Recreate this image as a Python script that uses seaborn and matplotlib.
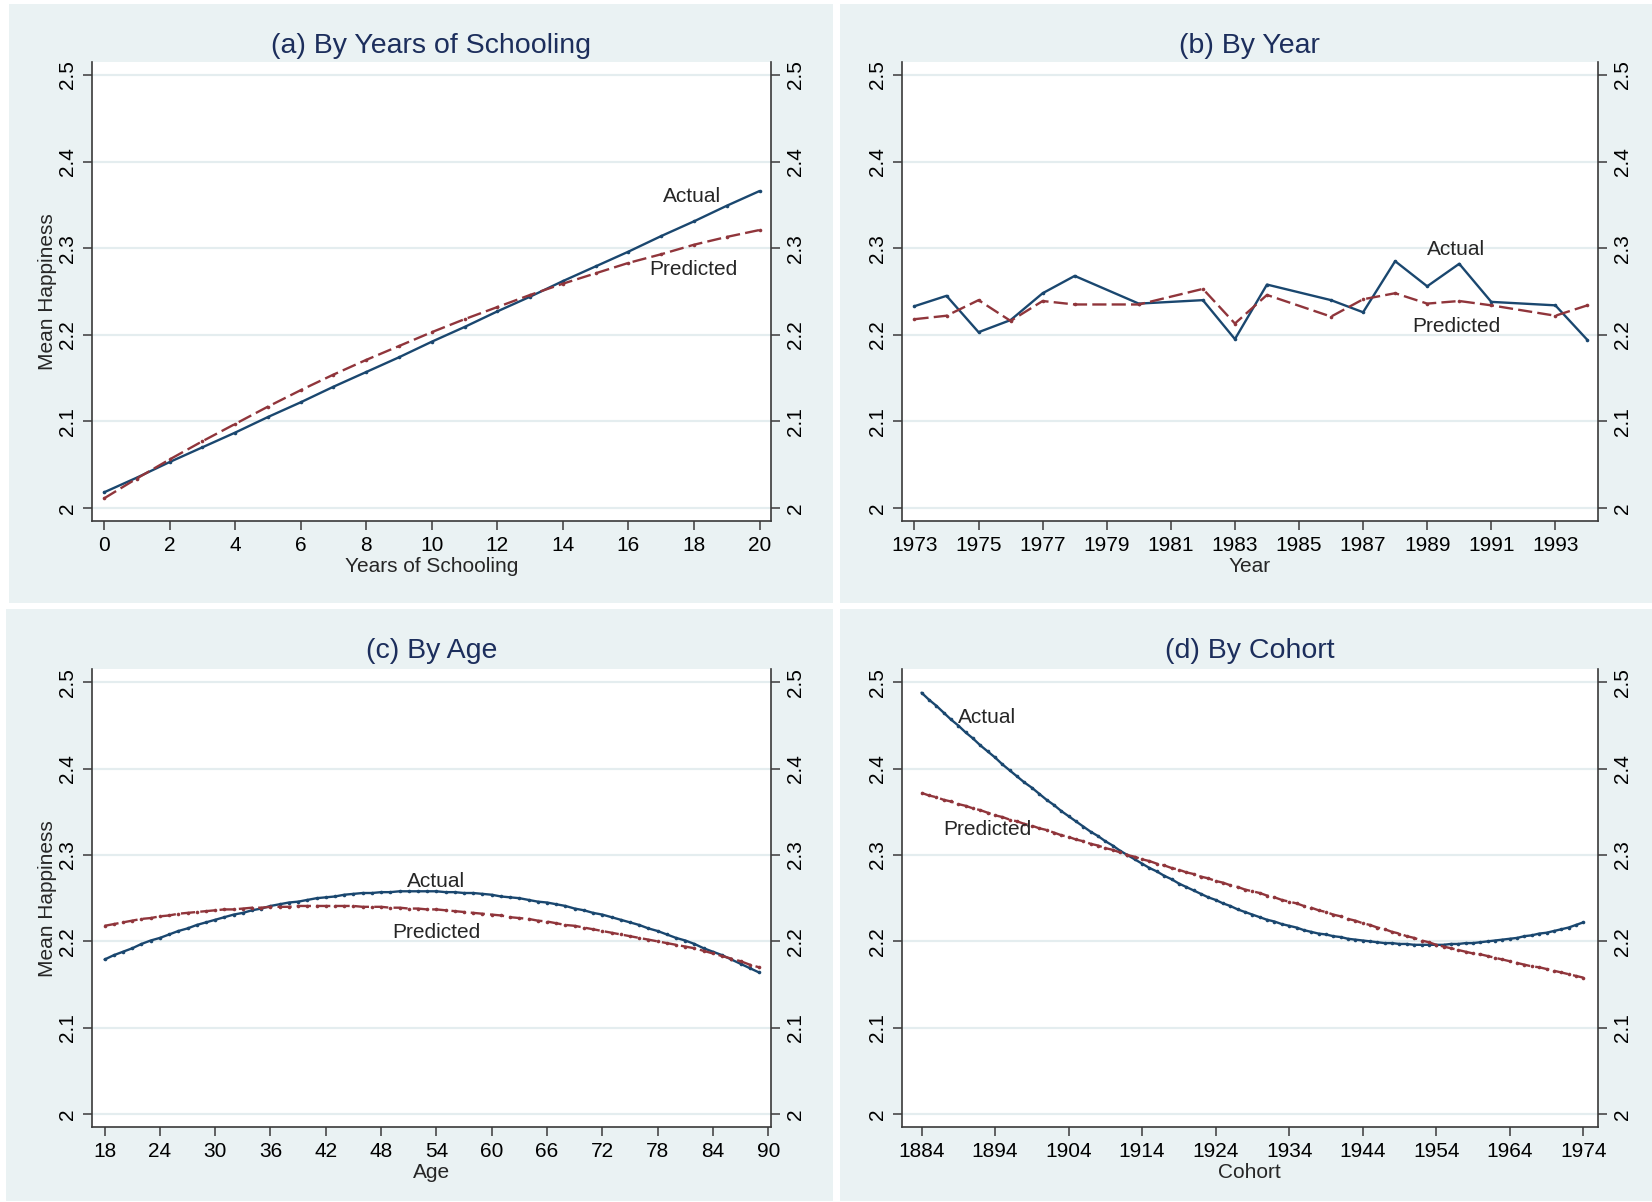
import matplotlib
matplotlib.use("Agg")
import matplotlib.pyplot as plt
from matplotlib.patches import Rectangle
import pandas as pd
import seaborn as sns

sns.set_theme(style="white")
plt.rcParams["font.family"] = ["Liberation Sans", "DejaVu Sans"]

# ---------------- data ----------------
school_years = list(range(0, 21))
school_actual = [2.018, 2.035, 2.053, 2.070, 2.087, 2.105, 2.122, 2.140, 2.157, 2.174, 2.192,
                 2.209, 2.227, 2.244, 2.262, 2.279, 2.296, 2.314, 2.331, 2.349, 2.366]
school_pred = [2.011, 2.034, 2.056, 2.077, 2.097, 2.117, 2.136, 2.154, 2.171, 2.187, 2.203,
               2.218, 2.232, 2.246, 2.259, 2.271, 2.283, 2.293, 2.304, 2.313, 2.321]

survey_years = [1973, 1974, 1975, 1976, 1977, 1978, 1980, 1982, 1983, 1984,
                1986, 1987, 1988, 1989, 1990, 1991, 1993, 1994]
year_actual = [2.233, 2.245, 2.203, 2.217, 2.248, 2.268, 2.236, 2.240, 2.195, 2.258,
               2.240, 2.226, 2.285, 2.256, 2.282, 2.238, 2.234, 2.194]
year_pred = [2.218, 2.222, 2.240, 2.216, 2.239, 2.235, 2.235, 2.253, 2.213, 2.246,
             2.221, 2.241, 2.248, 2.236, 2.239, 2.234, 2.222, 2.234]

ages = list(range(18, 90))
age_actual = [2.179, 2.184, 2.188, 2.192, 2.197, 2.201, 2.204, 2.208, 2.212, 2.215,
              2.219, 2.222, 2.225, 2.228, 2.231, 2.233, 2.236, 2.238, 2.241, 2.243,
              2.245, 2.246, 2.248, 2.250, 2.251, 2.252, 2.254, 2.255, 2.256, 2.256,
              2.257, 2.257, 2.258, 2.258, 2.258, 2.258, 2.258, 2.257, 2.257, 2.256,
              2.256, 2.255, 2.254, 2.252, 2.251, 2.250, 2.248, 2.246, 2.245, 2.243,
              2.241, 2.238, 2.236, 2.233, 2.231, 2.228, 2.225, 2.222, 2.219, 2.215,
              2.212, 2.208, 2.204, 2.201, 2.197, 2.192, 2.188, 2.184, 2.179, 2.174,
              2.169, 2.164]
age_pred = [2.218, 2.220, 2.222, 2.224, 2.226, 2.227, 2.229, 2.230, 2.232, 2.233,
            2.234, 2.235, 2.236, 2.237, 2.237, 2.238, 2.239, 2.239, 2.240, 2.240,
            2.240, 2.241, 2.241, 2.241, 2.241, 2.241, 2.241, 2.241, 2.240, 2.240,
            2.240, 2.239, 2.239, 2.238, 2.238, 2.237, 2.237, 2.236, 2.235, 2.234,
            2.233, 2.232, 2.231, 2.230, 2.228, 2.227, 2.226, 2.224, 2.223, 2.221,
            2.219, 2.218, 2.216, 2.214, 2.212, 2.210, 2.208, 2.206, 2.204, 2.202,
            2.200, 2.198, 2.196, 2.194, 2.192, 2.189, 2.186, 2.183, 2.180, 2.177,
            2.173, 2.170]

cohorts = list(range(1884, 1975))
cohort_actual = [2.488, 2.480, 2.473, 2.465, 2.457, 2.450, 2.442, 2.435, 2.427, 2.420,
                 2.413, 2.405, 2.398, 2.391, 2.384, 2.378, 2.371, 2.364, 2.358, 2.351,
                 2.345, 2.339, 2.333, 2.327, 2.322, 2.316, 2.311, 2.305, 2.300, 2.295,
                 2.290, 2.285, 2.281, 2.276, 2.272, 2.267, 2.263, 2.259, 2.255, 2.251,
                 2.248, 2.244, 2.241, 2.237, 2.234, 2.231, 2.228, 2.225, 2.223, 2.220,
                 2.218, 2.216, 2.213, 2.211, 2.209, 2.208, 2.206, 2.205, 2.203, 2.202,
                 2.201, 2.200, 2.199, 2.198, 2.198, 2.197, 2.197, 2.196, 2.196, 2.196,
                 2.196, 2.196, 2.197, 2.197, 2.198, 2.198, 2.199, 2.200, 2.201, 2.202,
                 2.203, 2.204, 2.206, 2.207, 2.209, 2.210, 2.212, 2.214, 2.216, 2.219,
                 2.222]
cohort_pred = [2.372, 2.369, 2.367, 2.364, 2.362, 2.359, 2.357, 2.354, 2.352, 2.349,
               2.346, 2.344, 2.341, 2.339, 2.336, 2.334, 2.331, 2.329, 2.326, 2.323,
               2.321, 2.318, 2.316, 2.313, 2.311, 2.308, 2.306, 2.303, 2.300, 2.298,
               2.295, 2.293, 2.290, 2.288, 2.285, 2.283, 2.280, 2.278, 2.275, 2.273,
               2.270, 2.268, 2.265, 2.263, 2.260, 2.258, 2.256, 2.253, 2.251, 2.248,
               2.246, 2.244, 2.241, 2.239, 2.236, 2.234, 2.231, 2.229, 2.226, 2.224,
               2.221, 2.219, 2.216, 2.214, 2.211, 2.209, 2.206, 2.204, 2.201, 2.199,
               2.196, 2.194, 2.192, 2.190, 2.188, 2.186, 2.185, 2.183, 2.181, 2.179,
               2.177, 2.175, 2.173, 2.171, 2.170, 2.168, 2.166, 2.164, 2.162, 2.160,
               2.158]

y_ticks = [2.0, 2.1, 2.2, 2.3, 2.4, 2.5]
y_ticklabels = ["2", "2.1", "2.2", "2.3", "2.4", "2.5"]

# ---------------- style ----------------
NAVY = "#1a476f"
MAROON = "#90353b"
PANEL_BG = "#eaf2f3"
GRID = "#e4edef"
TITLE_C = "#1c2e5c"
AXIS_C = "#3a3a3a"
NARROW = ["Liberation Sans Narrow", "Liberation Sans", "DejaVu Sans"]

fig = plt.figure(figsize=(16.52, 12.02), dpi=100)
fig.patch.set_facecolor("white")

# grey-blue graph regions behind each panel
for (x0, y0, w, h) in [(0.0054, 0.4983, 0.4988, 0.4984), (0.5085, 0.4983, 0.4915, 0.4984),
                       (0.0036, 0.0008, 0.5006, 0.4925), (0.5085, 0.0008, 0.4915, 0.4925)]:
    fig.patches.append(Rectangle((x0, y0), w, h, transform=fig.transFigure,
                                 facecolor=PANEL_BG, edgecolor="none", zorder=-10))


def draw_panel(rect, x, actual, pred, xlim, xticks, title, xlabel, ylabel,
               act_pos, pred_pos, title_y, narrow=False):
    ax = fig.add_axes(rect)
    ax.set_zorder(2)
    df = pd.DataFrame({"x": x, "Actual": actual, "Predicted": pred})
    sns.lineplot(data=df, x="x", y="Actual", ax=ax, color=NAVY, lw=1.7,
                 marker="o", markersize=2.6, markeredgewidth=0, errorbar=None)
    sns.lineplot(data=df, x="x", y="Predicted", ax=ax, color=MAROON, lw=1.7,
                 linestyle=(0, (6, 2.2)), marker="o", markersize=2.6,
                 markeredgewidth=0, errorbar=None)
    ax.set_xlim(*xlim)
    ax.set_ylim(1.985, 2.515)
    ax.set_xticks(xticks)
    ax.set_yticks(y_ticks)
    ax.set_yticklabels(y_ticklabels)
    ax.set_facecolor("white")
    ax.grid(axis="y", color=GRID, lw=1.6)
    ax.grid(axis="x", visible=False)
    ax.set_axisbelow(True)
    for side in ["left", "right", "bottom"]:
        ax.spines[side].set_color(AXIS_C)
        ax.spines[side].set_linewidth(1.2)
    ax.spines["top"].set_visible(False)
    ax.tick_params(axis="both", direction="out", length=6.5, width=1.1,
                   color=AXIS_C, labelsize=15, labelcolor="black", pad=4)
    ax.tick_params(axis="y", left=True, right=True, labelleft=True, labelright=True)
    ax.tick_params(axis="x", bottom=True)
    for t in ax.yaxis.get_major_ticks():
        t.label1.set_rotation(90)
        t.label1.set_va("center")
        t.label2.set_rotation(90)
        t.label2.set_va("center")
    if narrow:
        for lab in ax.get_xticklabels():
            lab.set_family(NARROW)
    ax.set_xlabel(xlabel, fontsize=15, labelpad=1.5,
                  family=NARROW if narrow else None)
    ax.set_ylabel(ylabel, fontsize=15, labelpad=1)
    ax.text(act_pos[0], act_pos[1], "Actual", fontsize=15, ha="center", va="center")
    ax.text(pred_pos[0], pred_pos[1], "Predicted", fontsize=15, ha="center", va="center")
    cx = rect[0] + rect[2] / 2
    fig.text(cx, title_y, title, fontsize=20.5, color=TITLE_C, ha="center", va="center")
    return ax


top = [0.5666, 0.9484 - 0.5666]
bot = [0.0624, 0.4431 - 0.0624]
left_col = [0.0555, 0.4667 - 0.0555]
right_col = [0.5458, 0.9673 - 0.5458]

draw_panel([left_col[0], top[0], left_col[1], top[1]], school_years, school_actual, school_pred,
           (-0.376, 20.35), list(range(0, 21, 2)), "(a) By Years of Schooling",
           "Years of Schooling", "Mean Happiness", (17.94, 2.360), (17.97, 2.275), 0.962)

draw_panel([right_col[0], top[0], right_col[1], top[1]], survey_years, year_actual, year_pred,
           (1972.6, 1994.33), list(range(1973, 1995, 2)), "(b) By Year",
           "Year", "", (1989.9, 2.298), (1989.9, 2.210), 0.962)

draw_panel([left_col[0], bot[0], left_col[1], bot[1]], ages, age_actual, age_pred,
           (16.6, 90.3), list(range(18, 91, 6)), "(c) By Age",
           "Age", "Mean Happiness", (54.0, 2.269), (54.0, 2.210), 0.458, narrow=True)

draw_panel([right_col[0], bot[0], right_col[1], bot[1]], cohorts, cohort_actual, cohort_pred,
           (1881.3, 1976.0), list(range(1884, 1975, 10)), "(d) By Cohort",
           "Cohort", "", (1892.9, 2.459), (1892.9, 2.329), 0.458)

fig.savefig("out.png", dpi=100, facecolor="white")
